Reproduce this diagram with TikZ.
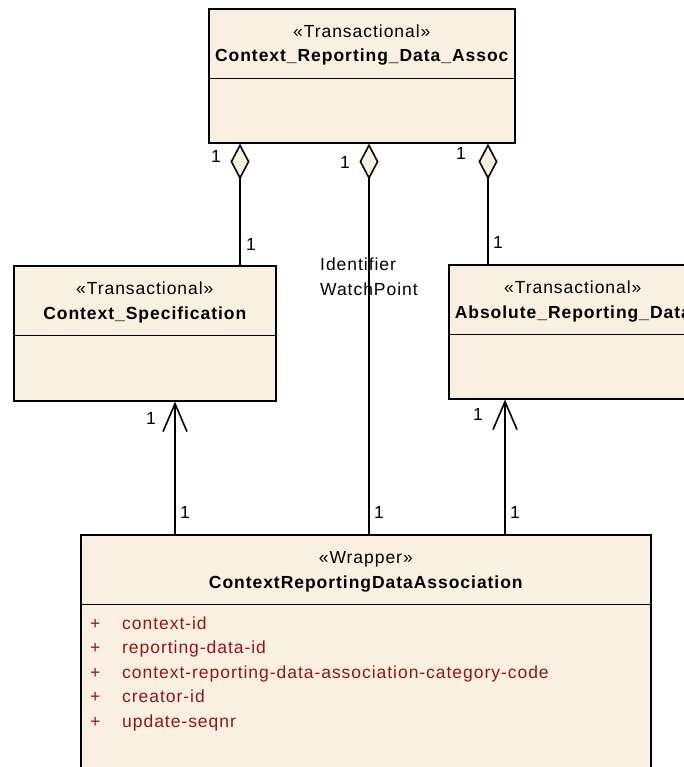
\documentclass[tikz,border=0pt]{standalone}
\usepackage{fontspec}
\setmainfont{Liberation Sans}[LetterSpace=5.5]
\usetikzlibrary{arrows.meta, positioning, calc}
\definecolor{classfill}{RGB}{250,240,226}
\definecolor{attrred}{RGB}{150,20,25}

\begin{document}
\begin{tikzpicture}[x=1pt, y=-1pt,
    classbox/.style={draw, fill=classfill, line width=1.6pt, inner sep=0pt,
                     anchor=north west},
    stereo/.style={anchor=base, inner sep=0pt, font=\fontsize{17.5}{20}\selectfont},
    cname/.style={anchor=base, inner sep=0pt,
                  font=\fontsize{17.5}{20}\selectfont\bfseries},
    mult/.style={inner sep=0pt, font=\fontsize{17.5}{20}\selectfont},
    attr/.style={anchor=base west, inner sep=0pt, text=attrred,
                 font=\fontsize{17.5}{20}\selectfont},
    aggr/.style={line width=1.6pt, {Diamond[fill=classfill, length=36pt, width=19pt]}-},
    nav/.style={line width=1.6pt, -{Straight Barb[length=28pt, width=24pt]}}
]
  \useasboundingbox (0,0) rectangle (684,767);
  \clip (0,0) rectangle (684,767);

  % classes
  \node[classbox, minimum width=306, minimum height=134] (assoc) at (208,8) {};
  \node[classbox, minimum width=262, minimum height=135] (spec) at (13,265) {};
  \node[classbox, minimum width=248, minimum height=134] (absrep) at (448,264) {};
  \node[classbox, minimum width=570, minimum height=300] (wrap) at (80,534) {};

  \foreach \b/\s/\c in {assoc/Transactional/Context\_Reporting\_Data\_Assoc,
                        spec/Transactional/Context\_Specification,
                        absrep/Transactional/Absolute\_Reporting\_Data,
                        wrap/Wrapper/ContextReportingDataAssociation} {
    \node[stereo] (\b-st) at ($(\b.north)+(0,29.5)$) {«\s»};
    \node[cname] (\b-nm) at ($(\b.north)+(0,54)$) {\c};
    \draw[line width=1.6pt] ($(\b.north west)+(0,70.5)$) -- ($(\b.north east)+(0,70.5)$);
  }

  % attributes
  \foreach \a [count=\i from 0] in {context-id, reporting-data-id,
      context-reporting-data-association-category-code, creator-id, update-seqnr} {
    \node[attr] (plus\i) at ($(wrap.north west)+(10,95+24.5*\i)$) {+};
    \node[attr] (attr\i) at ($(wrap.north west)+(42,95+24.5*\i)$) {\a};
  }

  % connectors
  \coordinate (lx) at (240,0);
  \coordinate (mx) at (369,0);
  \coordinate (rx) at (488,0);
  \coordinate (la) at (175,0);
  \coordinate (ra) at (505,0);
  \draw[aggr] (assoc.south -| lx) -- (spec.north -| lx);
  \draw[aggr] (assoc.south -| mx) -- (wrap.north -| mx);
  \draw[aggr] (assoc.south -| rx) -- (absrep.north -| rx);
  \draw[nav] (wrap.north -| la) -- (spec.south -| la);
  \draw[nav] (wrap.north -| ra) -- (absrep.south -| ra);

  % labels
  \node[mult, anchor=base west] (role1) at (320,270) {Identifier};
  \node[mult, anchor=base west] (role2) at (320,295) {WatchPoint};
  \foreach \p [count=\k] in {(216,156), (251,244), (345,162), (461,153), (498,242),
                             (151,418), (185,512), (379,512), (478,414), (515,512)}
    \node[mult] (m\k) at \p {1};
\end{tikzpicture}
\end{document}
